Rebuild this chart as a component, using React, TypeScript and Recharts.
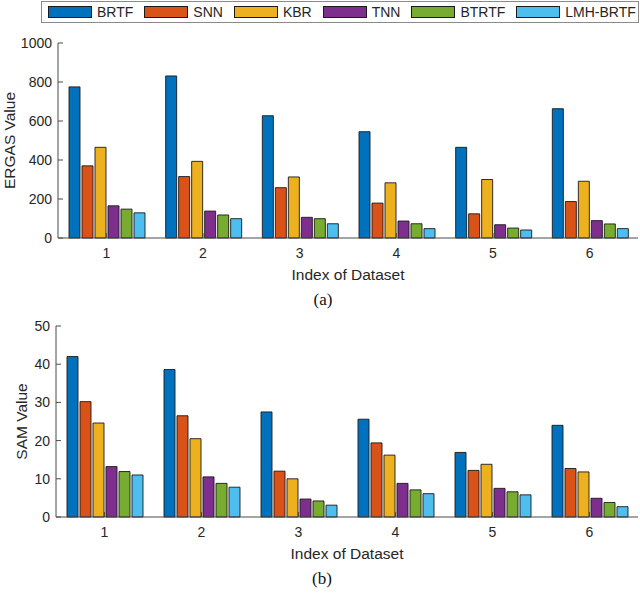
import { BarChart, Bar, XAxis, YAxis, Legend } from 'recharts'

const datasets = ['1', '2', '3', '4', '5', '6']
const methods = ['BRTF', 'SNN', 'KBR', 'TNN', 'BTRTF', 'LMH-BRTF']
const methodColors = ['#0072BD', '#D95319', '#EDB120', '#7E2F8E', '#77AC30', '#4DBEEE']

// ERGAS values per method, datasets 1..6
const ergasBRTF = [775, 831, 627, 545, 465, 663]
const ergasSNN = [370, 315, 258, 179, 124, 187]
const ergasKBR = [465, 393, 313, 283, 300, 291]
const ergasTNN = [165, 138, 106, 87, 68, 89]
const ergasBTRTF = [148, 118, 99, 73, 51, 72]
const ergasLMH = [129, 99, 73, 48, 41, 48]

// SAM values per method, datasets 1..6
const samBRTF = [42.0, 38.6, 27.5, 25.6, 16.9, 24.0]
const samSNN = [30.2, 26.5, 12.0, 19.4, 12.2, 12.7]
const samKBR = [24.6, 20.5, 10.0, 16.2, 13.8, 11.8]
const samTNN = [13.2, 10.5, 4.7, 8.8, 7.5, 4.9]
const samBTRTF = [11.9, 8.8, 4.2, 7.1, 6.6, 3.8]
const samLMH = [11.0, 7.8, 3.1, 6.1, 5.8, 2.7]

const ergasTicks = [0, 200, 400, 600, 800, 1000]
const samTicks = [0, 10, 20, 30, 40, 50]

const buildRows = (series: number[][]) =>
    datasets.map((name, i) => {
        const row: Record<string, string | number> = { name }
        methods.forEach((m, j) => { row[m] = series[j][i] })
        return row
    })

const ergasData = buildRows([ergasBRTF, ergasSNN, ergasKBR, ergasTNN, ergasBTRTF, ergasLMH])
const samData = buildRows([samBRTF, samSNN, samKBR, samTNN, samBTRTF, samLMH])

const FONT = '"Liberation Sans", Arial, Helvetica, sans-serif'
const AXIS_COLOR = '#4a4a4a'
const TEXT_COLOR = '#262626'
const tickStyle = { fontSize: 14, fill: TEXT_COLOR, fontFamily: FONT }
const labelStyle = { fontSize: 15.5, fill: TEXT_COLOR, fontFamily: FONT }

// legend keeps the series order (recharts would sort the payload by name)
function LegendBox() {
    return (
        <div style={{
            boxSizing: 'border-box', height: 22, width: 598, border: '1px solid #8a8a8a',
            display: 'flex', alignItems: 'center', paddingLeft: 6, background: '#fff',
            fontFamily: FONT, fontSize: 14, color: TEXT_COLOR, whiteSpace: 'nowrap',
        }}>
            {methods.map((m, i) => (
                <div key={m} style={{ display: 'flex', alignItems: 'center', marginRight: 11, flexShrink: 0 }}>
                    <span style={{
                        display: 'inline-block', boxSizing: 'border-box', width: 44, height: 12,
                        background: methodColors[i], border: '1px solid #1a1a1a', marginRight: 5,
                    }} />
                    <span>{m}</span>
                </div>
            ))}
        </div>
    )
}

interface PanelProps {
    data: Record<string, string | number>[]
    height: number
    marginTop: number
    xAxisHeight: number
    yWidth: number
    yLabel: string
    yLabelDx: number
    domain: [number, number]
    ticks: number[]
    withLegend?: boolean
}

function Panel({ data, height, marginTop, xAxisHeight, yWidth, yLabel, yLabelDx, domain, ticks, withLegend }: PanelProps) {
    return (
        <BarChart
            width={640}
            height={height}
            data={data}
            margin={{ top: marginTop, right: 2, left: 0, bottom: 0 }}
            barCategoryGap={11}
            barGap={2}
        >
            <XAxis
                dataKey="name"
                height={xAxisHeight}
                stroke={AXIS_COLOR}
                tickSize={-5}
                tickMargin={15}
                tick={tickStyle}
                label={{ value: 'Index of Dataset', position: 'insideBottom', offset: 10, style: labelStyle }}
            />
            <XAxis xAxisId="top" dataKey="name" orientation="top" height={0} stroke={AXIS_COLOR} tickSize={-5} tick={false} />
            <YAxis
                width={yWidth}
                domain={domain}
                ticks={ticks}
                stroke={AXIS_COLOR}
                tickSize={-5}
                tickMargin={11}
                tick={tickStyle}
                label={{ value: yLabel, angle: -90, position: 'insideLeft', dx: yLabelDx, style: { ...labelStyle, textAnchor: 'middle' } }}
            />
            <YAxis yAxisId="right" orientation="right" width={0} domain={domain} ticks={ticks} stroke={AXIS_COLOR} tickSize={-5} tick={false} />
            {withLegend && (
                <Legend
                    verticalAlign="top"
                    content={<LegendBox />}
                    wrapperStyle={{ top: 1, left: 41, width: 598, height: 22 }}
                />
            )}
            {methods.map((m, i) => (
                <Bar
                    key={m}
                    dataKey={m}
                    name={m}
                    fill={methodColors[i]}
                    stroke="#1a1a1a"
                    strokeWidth={0.9}
                    legendType="rect"
                    isAnimationActive={false}
                />
            ))}
        </BarChart>
    )
}

const captionStyle: React.CSSProperties = {
    position: 'absolute', width: 60, textAlign: 'center',
    fontFamily: '"Liberation Serif", "Times New Roman", serif', fontSize: 17, color: '#111', lineHeight: '20px',
}

export default function App() {
    return (
        <div style={{ position: 'absolute', left: 0, top: 0, width: 640, height: 593, background: '#fff', overflow: 'hidden' }}>
            <div style={{ position: 'absolute', left: 0, top: 0 }}>
                <Panel
                    data={ergasData}
                    height={290}
                    marginTop={21}
                    xAxisHeight={52}
                    yWidth={58}
                    yLabel="ERGAS Value"
                    yLabelDx={4}
                    domain={[0, 1000]}
                    ticks={ergasTicks}
                    withLegend
                />
            </div>
            <div style={{ ...captionStyle, left: 293, top: 290 }}>(a)</div>
            <div style={{ position: 'absolute', left: 0, top: 300 }}>
                <Panel
                    data={samData}
                    height={269}
                    marginTop={26}
                    xAxisHeight={52}
                    yWidth={56}
                    yLabel="SAM Value"
                    yLabelDx={16}
                    domain={[0, 50]}
                    ticks={samTicks}
                />
            </div>
            <div style={{ ...captionStyle, left: 292, top: 569 }}>(b)</div>
        </div>
    )
}
